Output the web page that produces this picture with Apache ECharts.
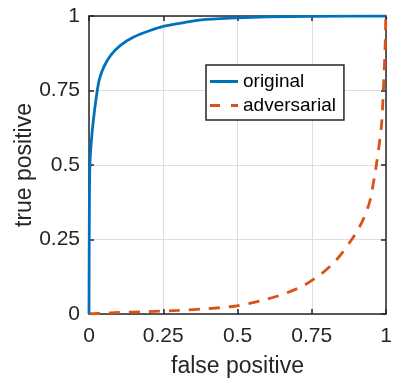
<!DOCTYPE html>
<html>
<head>
<meta charset="utf-8">
<script src="https://cdn.jsdelivr.net/npm/echarts@6/dist/echarts.min.js"></script>
<style>
  html, body { margin: 0; padding: 0; background: #fff; }
  #chart { width: 399px; height: 389px; }
</style>
</head>
<body>
<div id="chart"></div>
<script>
// ROC curves, values
const originalFpr = [0, 0.001, 0.003, 0.011, 0.023, 0.034, 0.05, 0.073, 0.107, 0.152, 0.208, 0.253, 0.32, 0.387, 0.5, 0.6, 0.75, 1]
const originalTpr = [0, 0.3, 0.5, 0.615, 0.716, 0.784, 0.829, 0.868, 0.902, 0.93, 0.952, 0.966, 0.978, 0.988, 0.994, 0.997, 0.999, 1]

const adversarialFpr = [0, 0.05, 0.1, 0.2, 0.3, 0.4, 0.49, 0.58, 0.65, 0.72, 0.78, 0.83, 0.88, 0.92, 0.946, 0.969, 0.985, 0.991, 0.997, 0.999, 1]
const adversarialTpr = [0, 0.003, 0.005, 0.008, 0.012, 0.018, 0.026, 0.045, 0.065, 0.094, 0.133, 0.178, 0.243, 0.31, 0.38, 0.51, 0.635, 0.747, 0.894, 0.985, 1]

const tickValues = [0, 0.25, 0.5, 0.75, 1]

const pair = (xs, ys) => xs.map((x, i) => [x, ys[i]])

const chart = echarts.init(document.getElementById('chart'))

const axisColor = '#262626'
const fontFamily = '"Liberation Sans", Arial, Helvetica, sans-serif'

const baseAxis = {
  type: 'value',
  min: 0,
  max: 1,
  interval: 0.25,
  axisLine: { show: true, onZero: false, lineStyle: { color: axisColor, width: 1.5 } },
  axisTick: { show: true, inside: true, length: 5, lineStyle: { color: axisColor, width: 1.5 } },
  splitLine: { show: false }
}

chart.setOption({
  backgroundColor: '#fff',
  animation: false,
  textStyle: { fontFamily },
  grid: { left: 89, top: 16, right: 13, bottom: 75, containLabel: false, outerBoundsMode: 'none' },
  legend: {
    left: 206,
    top: 65,
    orient: 'vertical',
    backgroundColor: '#fff',
    borderColor: axisColor,
    borderWidth: 1.5,
    borderRadius: 0,
    padding: [7, 8, 5, 4],
    itemGap: 5,
    itemWidth: 28,
    itemHeight: 3,
    itemStyle: { borderWidth: 0 },
    textStyle: { fontSize: 19, color: '#000', fontFamily },
    data: [
      { name: 'original', icon: 'rect' },
      { name: 'adversarial', icon: 'path://M0,0h10v3h-10z M21,0h7v3h-7z' }
    ]
  },
  xAxis: [
    Object.assign({}, baseAxis, {
      position: 'bottom',
      name: 'false positive',
      nameLocation: 'middle',
      nameGap: 41,
      nameMoveOverlap: false,
      nameTextStyle: { fontSize: 23, color: axisColor, fontFamily },
      axisLabel: {
        fontSize: 21, color: axisColor, margin: 12,
        formatter: v => tickValues.includes(v) ? String(v) : ''
      },
      splitLine: { show: true, lineStyle: { color: '#dedede', width: 1 } }
    }),
    Object.assign({}, baseAxis, { position: 'top', axisLabel: { show: false } })
  ],
  yAxis: [
    Object.assign({}, baseAxis, {
      position: 'left',
      name: 'true positive',
      nameLocation: 'middle',
      nameGap: 53,
      nameMoveOverlap: false,
      nameTextStyle: { fontSize: 23, color: axisColor, fontFamily },
      axisLabel: {
        fontSize: 21, color: axisColor, margin: 9,
        formatter: v => tickValues.includes(v) ? String(v) : ''
      },
      splitLine: { show: true, lineStyle: { color: '#dedede', width: 1 } }
    }),
    Object.assign({}, baseAxis, { position: 'right', axisLabel: { show: false } })
  ],
  series: [
    {
      name: 'original',
      type: 'line',
      data: pair(originalFpr, originalTpr),
      showSymbol: false,
      symbol: 'none',
      smooth: 0.25,
      color: '#0072BD',
      lineStyle: { color: '#0072BD', width: 2.8 },
      z: 3
    },
    {
      name: 'adversarial',
      type: 'line',
      data: pair(adversarialFpr, adversarialTpr),
      showSymbol: false,
      symbol: 'none',
      smooth: 0.25,
      color: '#D95319',
      lineStyle: { color: '#D95319', width: 2.8, type: [11, 9] },
      z: 2
    }
  ]
})

window.addEventListener('resize', () => {
  chart.resize()
})
</script>
</body>
</html>
